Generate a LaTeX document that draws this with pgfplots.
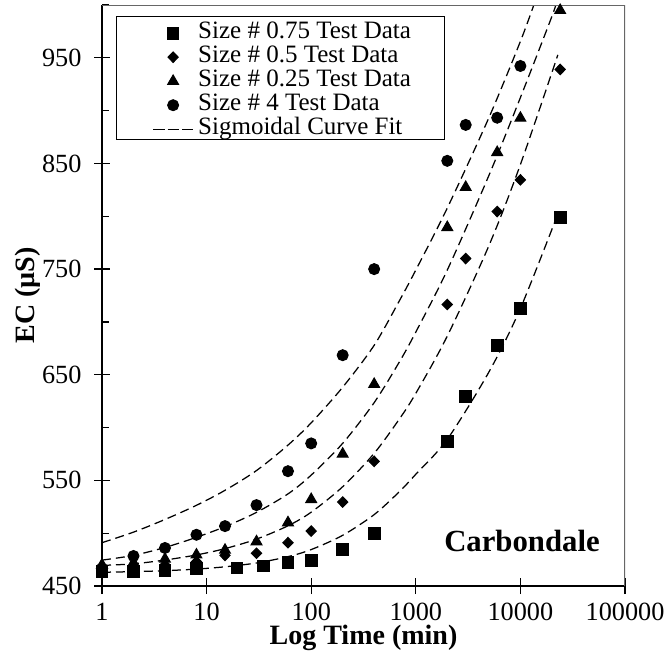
\documentclass[border=0pt]{standalone}
\usepackage{pgfplots}
\pgfplotsset{compat=1.18}
\usepackage{fontspec}
\setmainfont{Liberation Serif}
\pgfplotsset{
  markleg/.style={legend image code/.code={\path (0pt,0pt) (16pt,0pt); \draw[##1] plot coordinates {(8pt,0pt)};}},
  lineleg/.style={legend image code/.code={\draw[##1, dash pattern=on 4.6pt off 1.2pt] (0pt,0pt) -- (16pt,0pt);}},
}
\begin{document}
\begin{tikzpicture}
\begin{axis}[
  scale only axis, width=209.2pt, height=232.4pt,
  xmode=log, log basis x=10,
  xmin=1, xmax=100000, ymin=450, ymax=1000,
  xtick={1,10,100,1000,10000,100000},
  xticklabels={1,10,100,1000,10000,100000},
  ytick={450,550,650,750,850,950},
  yticklabels={450,550,650,750,850,950},
  minor ytick={500,600,700,800,900,1000},
  axis x line*=bottom, axis y line*=left,
  axis line style={line width=0.6pt},
  tick align=center, major tick length=6.4pt, minor tick length=2.8pt,
  every tick/.append style={line width=0.5pt, black},
  every minor x tick/.append style={yshift=1.4pt},
  every minor y tick/.append style={xshift=1.4pt},
  xticklabel style={font=\fontsize{10.5}{12}\selectfont, anchor=north, inner sep=0pt, yshift=-3.6pt},
  yticklabel style={font=\fontsize{10.5}{12}\selectfont, anchor=east, inner sep=0pt, xshift=-4.8pt},
  xlabel={Log Time (min)},
  ylabel={EC (µS)},
  xlabel style={font=\fontsize{11.2}{13}\selectfont\bfseries, at={(rel axis cs:0.5,0)}, anchor=north, inner sep=0pt, yshift=-15.6pt},
  ylabel style={font=\fontsize{11.2}{13}\selectfont\bfseries, at={(rel axis cs:0,0.5)}, anchor=center, inner sep=0pt, yshift=29.8pt},
  legend cell align=left,
  legend style={at={(rel axis cs:0.0956,0.973)}, anchor=north west,
    draw=none, fill=none, font=\fontsize{10}{12}\selectfont,
    inner sep=0pt, column sep=1.6pt,
    nodes={inner sep=0.2pt, text height=6.9pt, text depth=2.3pt}},
  mark options={solid, fill=black, draw=black},
]
\addplot[only marks, mark=square*, mark size=2.35pt, markleg]
coordinates {(1,464) (2,464) (4,465) (8,466.5) (19.5,467) (35,469) (60,472) (100,474.5) (200,484.5) (400,499.5) (2000,587) (3000,629.5) (6000,678) (10000,713) (24000,799)};
\addlegendentry{Size \# 0.75 Test Data}
\addplot[only marks, mark=diamond*, mark size=2.1pt, mark options={xscale=1.3}, markleg]
coordinates {(1,466) (2,468) (4,470) (8,473) (15,479) (30,481) (60,491) (100,502) (200,529.5) (400,568) (2000,716.5) (3000,760) (6000,804.5) (10000,834.5) (24000,939)};
\addlegendentry{Size \# 0.5 Test Data}
\addplot[only marks, mark=triangle*, mark size=2.5pt, markleg]
coordinates {(1,470) (2,472) (4,475.5) (8,479.5) (15,484) (30,492) (60,510) (100,532) (200,575) (400,641) (2000,789.5) (3000,827.5) (6000,860.5) (10000,893) (24000,995)};
\addlegendentry{Size \# 0.25 Test Data}
\addplot[only marks, mark=*, mark size=2.2pt, markleg]
coordinates {(1,466.7) (2,478.4) (4,486) (8,498.5) (15,506.7) (30,526.6) (60,558.7) (100,585) (200,668.5) (400,750) (2000,852.5) (3000,886.5) (6000,893.3) (10000,942.3)};
\addlegendentry{Size \# 4 Test Data}
\addplot[no marks, smooth, black, line width=0.5pt, dash pattern=on 3.6pt off 2pt, lineleg]
coordinates {(1,491) (2,501) (4,513) (8,526.4) (15,540.6) (30,559.3) (60,583.4) (100,604.5) (200,638.2) (400,677.9) (700,720.4) (1000,749.1) (2000,807.8) (5000,893.4) (10000,965.6) (14000,1005)};
\addlegendentry{Sigmoidal Curve Fit}
\addplot[no marks, smooth, black, line width=0.5pt, dash pattern=on 3.6pt off 2pt, forget plot]
coordinates {(1,474.5) (2,479) (4,486.5) (8,496.1) (15,506.2) (30,519.7) (60,537.2) (100,555) (200,585.1) (400,623.6) (700,662.5) (1000,690.4) (2000,749.1) (5000,838.7) (10000,912.4) (20000,989.2) (22500,1005)};
\addplot[no marks, smooth, black, line width=0.5pt, dash pattern=on 3.6pt off 2pt, forget plot]
coordinates {(1,469.5) (2,471) (4,474.6) (8,479.4) (15,485.4) (30,494.4) (60,507) (100,519.9) (200,544) (400,575.6) (700,608.4) (1000,632.4) (2000,686.6) (5000,772.2) (10000,849) (22800,952.8)};
\addplot[no marks, smooth, black, line width=0.5pt, dash pattern=on 3.6pt off 2pt, forget plot]
coordinates {(1,463) (2,463.6) (4,464.5) (8,466) (15,468.2) (30,471.8) (60,477.8) (100,484.5) (200,498) (400,517.6) (700,539.5) (1000,555.8) (2000,588.9) (5000,652.6) (10000,712.8) (23400,805)};
\node[anchor=base, font=\fontsize{12.3}{14}\selectfont\bfseries, inner sep=0pt] at (axis cs:10360,482.4) {Carbondale};
\draw[black!60, line width=0.5pt] (rel axis cs:0,1) -- (rel axis cs:1,1) -- (rel axis cs:1,0);
\draw[black, line width=0.4pt] (rel axis cs:0.0268,0.981) rectangle (rel axis cs:0.654,0.769);
\coordinate (O) at (rel axis cs:0,0);
\end{axis}
\pgfresetboundingbox
\path ([xshift=-40.8pt,yshift=-28.8pt]O) rectangle ([xshift=226.8pt,yshift=234.4pt]O);
\end{tikzpicture}
\end{document}
